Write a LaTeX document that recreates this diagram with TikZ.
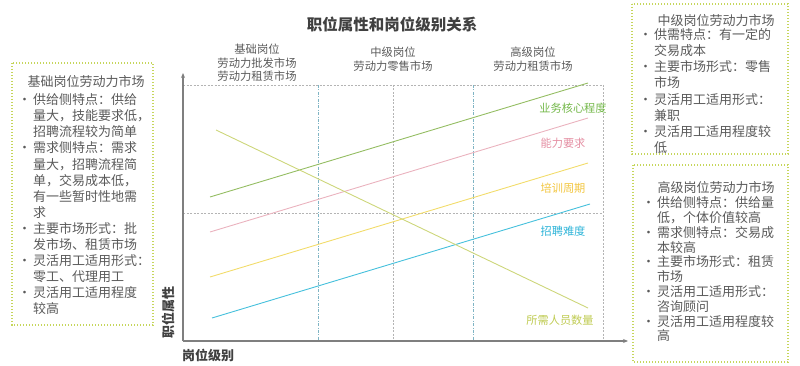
\documentclass[tikz,border=0pt]{standalone}
\usepackage{fontspec}
\setmainfont{Noto Sans CJK SC}
\usetikzlibrary{arrows.meta}
\definecolor{txt}{HTML}{5A5A5A}
\definecolor{ttl}{HTML}{404040}
\definecolor{axisc}{HTML}{7F7F7F}
\definecolor{gridc}{HTML}{B4B4B4}
\definecolor{gridbl}{HTML}{7FB4C4}
\definecolor{boxc}{HTML}{C6D65C}
\definecolor{lgreen}{HTML}{94BD62}
\definecolor{tgreen}{HTML}{74B84A}
\definecolor{lpink}{HTML}{EAB2BE}
\definecolor{tpink}{HTML}{E48EA2}
\definecolor{lyellow}{HTML}{F2DC6A}
\definecolor{tyellow}{HTML}{F2C640}
\definecolor{lcyan}{HTML}{45C0DC}
\definecolor{tcyan}{HTML}{2EB4D8}
\definecolor{lolive}{HTML}{CDD67A}
\definecolor{tolive}{HTML}{BFCB52}
\newcommand{\bl}{\makebox[16pt][l]{\hspace{1pt}•}}
\newcommand{\ii}{\hspace*{16pt}}
\begin{document}
\begin{tikzpicture}[x=1pt,y=-1pt,
  boxt/.style={inner sep=0pt, align=left, text=txt, font=\fontsize{13}{16.1}\selectfont},
  boxh/.style={inner sep=0pt, text=txt, font=\fontsize{13}{16}\selectfont},
  dotbox/.style={draw=boxc, line width=1.4pt, dash pattern=on 1.4pt off 1.6pt},
  colh/.style={inner sep=0pt, align=center, text=txt, font=\fontsize{11.3}{13.6}\selectfont},
  lab/.style={inner sep=0pt, font=\fontsize{11.2}{13}\selectfont},
  axl/.style={inner sep=0pt, text=ttl, font=\fontsize{13}{14}\selectfont\bfseries},
  axis/.style={draw=axisc, line width=1.1pt, -{Stealth[length=5pt,width=4pt]}},
  gridg/.style={draw=gridc, line width=0.6pt, dash pattern=on 2pt off 1.5pt},
  gridb/.style={draw=gridbl, line width=0.6pt, dash pattern=on 3pt off 1.5pt on 0.8pt off 1.5pt},
  serie/.style={line width=0.9pt}
]
\useasboundingbox (0,0) rectangle (800,366);

% title
\node[inner sep=0pt, text=ttl, font=\fontsize{15.5}{17}\selectfont\bfseries] (title) at (392,25) {职位属性和岗位级别关系};

% column headers
\node[colh] (c1) at (257,63) {基础岗位\\劳动力批发市场\\劳动力租赁市场};
\node[colh] (c2) at (393,59) {中级岗位\\劳动力零售市场};
\node[colh] (c3) at (533,59) {高级岗位\\劳动力租赁市场};

% grid
\coordinate (o) at (183,341);
\coordinate (ytop) at (183,73);
\coordinate (xend) at (628,341);
\coordinate (tl) at (183,85);
\coordinate (tr) at (603,85);
\coordinate (br) at (603,341);
\coordinate (ml) at (183,213);
\coordinate (mr) at (603,213);
\coordinate (v1t) at (318,85); \coordinate (v1b) at (318,341);
\coordinate (v2t) at (393,85); \coordinate (v2b) at (393,341);
\coordinate (v3t) at (473,85); \coordinate (v3b) at (473,341);
\draw[gridg] (tl) -- (tr) -- (br);
\draw[gridg] (ml) -- (mr);
\draw[gridb] (v1t) -- (v1b);
\draw[gridg] (v2t) -- (v2b);
\draw[gridb] (v3t) -- (v3b);

% axes
\draw[axis] (o) -- (ytop);
\draw[axis] (o) -- (xend);
\node[axl, rotate=90] (ylab) at (168,312) {职位属性};
\node[axl, anchor=west] (xlab) at (182,355) {岗位级别};

% series
\coordinate (a1) at (210,197); \coordinate (a2) at (588,83);
\coordinate (b1) at (210,232); \coordinate (b2) at (588,118);
\coordinate (c1s) at (210,277); \coordinate (c2s) at (588,163);
\coordinate (d1) at (212,318); \coordinate (d2) at (590,204);
\coordinate (e1) at (216,130); \coordinate (e2) at (588,308);
\draw[serie, draw=lgreen] (a1) -- (a2);
\draw[serie, draw=lpink] (b1) -- (b2);
\draw[serie, draw=lyellow] (c1s) -- (c2s);
\draw[serie, draw=lcyan] (d1) -- (d2);
\draw[serie, draw=lolive] (e1) -- (e2);
\node[lab, text=tgreen] (la) at (573,108) {业务核心程度};
\node[lab, text=tpink] (lb) at (563,143) {能力要求};
\node[lab, text=tyellow] (lc) at (563,188) {培训周期};
\node[lab, text=tcyan] (ld) at (563,231) {招聘难度};
\node[lab, text=tolive] (le) at (560,320) {所需人员数量};

% left box
\draw[dotbox] (12,63) rectangle (153,325);
\node[boxh] (lh) at (86,82) {基础岗位劳动力市场};
\node[boxt, anchor=north west] (lbody) at (17,93.5) {\bl 供给侧特点：供给\\\ii 量大，技能要求低，\\\ii 招聘流程较为简单\\\bl 需求侧特点：需求\\\ii 量大，招聘流程简\\\ii 单，交易成本低，\\\ii 有一些暂时性地需\\\ii 求\\\bl 主要市场形式：批\\\ii 发市场、租赁市场\\\bl 灵活用工适用形式：\\\ii 零工、代理用工\\\bl 灵活用工适用程度\\\ii 较高};

% top right box
\draw[dotbox] (632,4) rectangle (788,154);
\node[boxh] (th) at (716,21) {中级岗位劳动力市场};
\node[boxt, anchor=north west, font=\fontsize{13}{16.2}\selectfont] (tbody) at (638,28) {\bl 供需特点：有一定的\\\ii 交易成本\\\bl 主要市场形式：零售\\\ii 市场\\\bl 灵活用工适用形式：\\\ii 兼职\\\bl 灵活用工适用程度较\\\ii 低};

% bottom right box
\draw[dotbox] (633,165) rectangle (788,362);
\node[boxh] (bh) at (716,188) {高级岗位劳动力市场};
\node[boxt, anchor=north west, font=\fontsize{13}{14.8}\selectfont] (bbody) at (641,196.5) {\bl 供给侧特点：供给量\\\ii 低，个体价值较高\\\bl 需求侧特点：交易成\\\ii 本较高\\\bl 主要市场形式：租赁\\\ii 市场\\\bl 灵活用工适用形式：\\\ii 咨询顾问\\\bl 灵活用工适用程度较\\\ii 高};
\end{tikzpicture}
\end{document}
